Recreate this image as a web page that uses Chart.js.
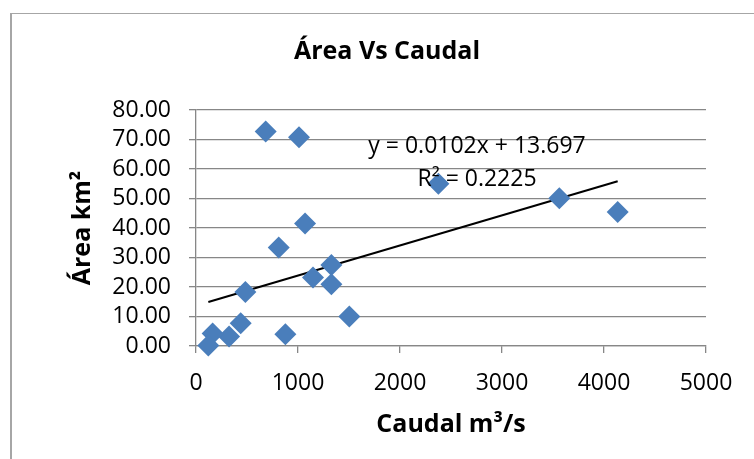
<!DOCTYPE html>
<html>
<head>
<meta charset="utf-8">
<script src="https://cdn.jsdelivr.net/npm/chart.js@4"></script>
<style>
  html, body { margin: 0; padding: 0; background: #fff; }
  #wrap { position: relative; width: 754px; height: 459px; overflow: hidden; }
  #frame { position: absolute; left: 10px; top: 13px; width: 800px; height: 500px;
           border-left: 2px solid #a6a6a6; border-top: 1px solid #a6a6a6; }
  canvas { position: absolute; left: 0; top: 0; }
</style>
</head>
<body>
<div id="wrap">
  <div id="frame"></div>
  <canvas id="myChart" width="754" height="459"></canvas>
</div>
<script>
// caudal (m3/s) and area (km2)
const caudal = [683, 1010, 2376, 1069, 811, 1327, 1147, 1327, 484, 1503, 438, 324, 163, 876, 121, 3562, 4134];
const area = [72.7, 70.8, 55.0, 41.5, 33.4, 27.5, 23.2, 20.9, 18.3, 10.0, 7.7, 3.2, 4.2, 4.0, 0.2, 50.1, 45.4];

// trendline as printed on the chart
const slope = 0.0102;
const intercept = 13.697;
const eqText = ["y = 0.0102x + 13.697", "R² = 0.2225"];
const eqAnchor = [[2755, 67.5], [2755, 56.3]];

const xTicks = [0, 1000, 2000, 3000, 4000, 5000];
const yTicks = [0, 10, 20, 30, 40, 50, 60, 70, 80];

const fontFam = "'Open Sans', sans-serif";
const gridCol = "#878787";

const points = [];
for (let i = 0; i < caudal.length; i++) {
  points.push({ x: caudal[i], y: area[i] });
}
const xMin = Math.min(...caudal);
const xMax = Math.max(...caudal);
const trend = [
  { x: xMin, y: slope * xMin + intercept },
  { x: xMax, y: slope * xMax + intercept },
];

// draws the equation text next to the trendline
const eqLabel = {
  id: "eqLabel",
  afterDatasetsDraw(chart) {
    const ctx = chart.ctx;
    const xs = chart.scales.x;
    const ys = chart.scales.y;
    ctx.save();
    ctx.fillStyle = "#000";
    ctx.font = "23px " + fontFam;
    ctx.textAlign = "center";
    ctx.textBaseline = "middle";
    for (let i = 0; i < eqText.length; i++) {
      ctx.fillText(eqText[i], xs.getPixelForValue(eqAnchor[i][0]), ys.getPixelForValue(eqAnchor[i][1]));
    }
    ctx.restore();
  },
};

const ctx = document.getElementById("myChart");

new Chart(ctx, {
  type: "scatter",
  data: {
    datasets: [
      {
        label: "Área",
        data: points,
        pointStyle: "rectRot",
        pointRadius: 11,
        pointHoverRadius: 11,
        backgroundColor: "#4a7ebb",
        borderColor: "#4a7ebb",
        borderWidth: 0,
        clip: false,
      },
      {
        type: "line",
        label: "Lineal",
        data: trend,
        borderColor: "#000",
        borderWidth: 2,
        pointRadius: 0,
        fill: false,
      },
    ],
  },
  options: {
    responsive: false,
    animation: false,
    layout: { padding: { left: 68, right: 48, top: 0, bottom: 8 } },
    plugins: {
      legend: { display: false },
      tooltip: { enabled: false },
      title: {
        display: true,
        text: "Área Vs Caudal",
        color: "#000",
        font: { family: fontFam, size: 25, weight: "bold" },
        padding: { top: 37, bottom: 43 },
      },
    },
    scales: {
      x: {
        type: "linear",
        min: 0,
        max: 5000,
        afterBuildTicks: (s) => { s.ticks = xTicks.map((v) => ({ value: v })); },
        afterFit: (s) => { s.height = 459 - 8 - 346; },
        ticks: {
          color: "#000",
          font: { family: fontFam, size: 23 },
          padding: 17,
          autoSkip: false,
          maxRotation: 0,
          callback: (v) => String(v),
        },
        grid: { drawOnChartArea: false, color: gridCol, lineWidth: 1.3, tickLength: 7 },
        border: { color: gridCol, width: 1.3 },
        title: {
          display: true,
          text: "Caudal m³/s",
          color: "#000",
          font: { family: fontFam, size: 25, weight: "bold" },
          padding: { top: 0, bottom: 11 },
        },
      },
      y: {
        min: 0,
        max: 80,
        afterBuildTicks: (s) => { s.ticks = yTicks.map((v) => ({ value: v })); },
        afterFit: (s) => { s.width = 196 - 68; },
        ticks: {
          color: "#000",
          font: { family: fontFam, size: 23 },
          padding: 18,
          autoSkip: false,
          callback: (v) => v.toFixed(2),
        },
        grid: { color: gridCol, lineWidth: 1.3, tickLength: 7 },
        border: { color: gridCol, width: 1.3 },
        title: {
          display: true,
          text: "Área km²",
          color: "#000",
          font: { family: fontFam, size: 25, weight: "bold" },
          padding: { top: 0, bottom: 0 },
        },
      },
    },
  },
  plugins: [eqLabel],
});
</script>
</body>
</html>
